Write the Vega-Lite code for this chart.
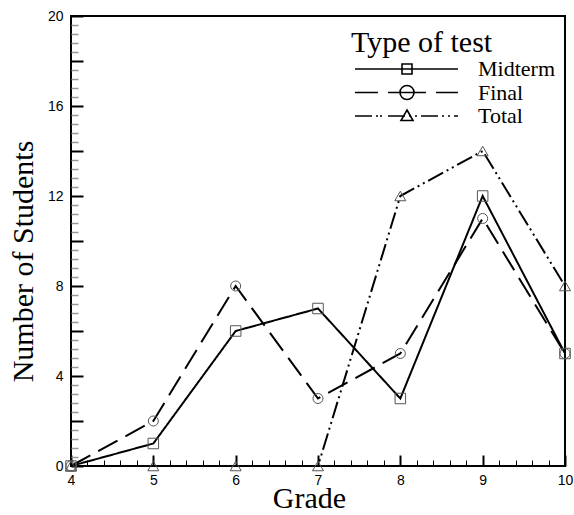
{
  "$schema": "https://vega.github.io/schema/vega-lite/v6.json",
  "autosize": {"type": "none"},
  "padding": {"left": 71, "top": 16, "right": 9, "bottom": 49},
  "width": 494,
  "height": 450,
  "background": "white",
  "config": {
    "view": {"stroke": "black", "strokeWidth": 2},
    "axis": {"domain": false, "grid": false, "ticks": true, "labelFont": "Liberation Sans", "labelFontSize": 14, "labelColor": "black", "titleFont": "Liberation Serif", "titleFontSize": 30, "titleFontWeight": "normal", "titleColor": "black", "labelOverlap": false, "labelFlush": false}
  },
  "data": {
    "values": [
      {"grade": 4, "students": 0, "test": "Midterm"},
      {"grade": 5, "students": 1, "test": "Midterm"},
      {"grade": 6, "students": 6, "test": "Midterm"},
      {"grade": 7, "students": 7, "test": "Midterm"},
      {"grade": 8, "students": 3, "test": "Midterm"},
      {"grade": 9, "students": 12, "test": "Midterm"},
      {"grade": 10, "students": 5, "test": "Midterm"},
      {"grade": 4, "students": 0, "test": "Final"},
      {"grade": 5, "students": 2, "test": "Final"},
      {"grade": 6, "students": 8, "test": "Final"},
      {"grade": 7, "students": 3, "test": "Final"},
      {"grade": 8, "students": 5, "test": "Final"},
      {"grade": 9, "students": 11, "test": "Final"},
      {"grade": 10, "students": 5, "test": "Final"},
      {"grade": 4, "students": 0, "test": "Total"},
      {"grade": 5, "students": 0, "test": "Total"},
      {"grade": 6, "students": 0, "test": "Total"},
      {"grade": 7, "students": 0, "test": "Total"},
      {"grade": 8, "students": 12, "test": "Total"},
      {"grade": 9, "students": 14, "test": "Total"},
      {"grade": 10, "students": 8, "test": "Total"}
    ]
  },
  "encoding": {
    "x": {
      "field": "grade", "type": "quantitative",
      "scale": {"domain": [4, 10], "nice": false, "zero": false},
      "axis": {
        "title": "Grade",
        "titleX": 238, "titleY": 41, "titleBaseline": "alphabetic", "titleAlign": "center", "titleAnchor": null,
        "values": [4,4.2,4.4,4.6,4.8,5,5.2,5.4,5.6,5.8,6,6.2,6.4,6.6,6.8,7,7.2,7.4,7.6,7.8,8,8.2,8.4,8.6,8.8,9,9.2,9.4,9.6,9.8,10],
        "labelOverlap": false,
        "labelExpr": "datum.value % 1 === 0 ? format(datum.value, 'd') : ''",
        "tickSize": -11,
        "tickDash": {"condition": {"test": "datum.value % 1 === 0", "value": [11, 0]}, "value": [6, 30]},
        "tickWidth": {"condition": {"test": "datum.value % 1 === 0", "value": 2}, "value": 1},
        "tickColor": "black",
        "labelPadding": 18
      }
    },
    "y": {
      "field": "students", "type": "quantitative",
      "scale": {"domain": [0, 20], "nice": false},
      "axis": {
        "title": "Number of Students",
        "titleX": -39, "titleY": 245, "titleBaseline": "alphabetic", "titleAlign": "center", "titleAnchor": null, "titleAngle": -90,
        "values": [0,0.4,0.8,1.2,1.6,2,2.4,2.8,3.2,3.6,4,4.4,4.8,5.2,5.6,6,6.4,6.8,7.2,7.6,8,8.4,8.8,9.2,9.6,10,10.4,10.8,11.2,11.6,12,12.4,12.8,13.2,13.6,14,14.4,14.8,15.2,15.6,16,16.4,16.8,17.2,17.6,18,18.4,18.8,19.2,19.6,20],
        "labelOverlap": false,
        "labelExpr": "datum.value % 4 === 0 ? format(datum.value, 'd') : ''",
        "tickSize": -12,
        "tickDash": {"condition": {"test": "datum.value % 2 === 0", "value": [12, 0]}, "value": [7, 30]},
        "tickWidth": {"condition": {"test": "datum.value % 2 === 0", "value": 2}, "value": 1.5},
        "tickColor": {"condition": {"test": "datum.value % 2 === 0", "value": "black"}, "value": "#999999"},
        "labelPadding": 20
      }
    }
  },
  "layer": [
    {
      "mark": {"type": "line", "color": "black", "strokeWidth": 2},
      "encoding": {
        "strokeDash": {
          "field": "test", "type": "nominal",
          "scale": {"domain": ["Midterm", "Final", "Total"], "range": [[1, 0], [22, 9], [17, 4, 2, 4, 2, 4]]},
          "legend": null
        }
      }
    },
    {
      "mark": {"type": "point", "filled": false, "stroke": "#555555", "strokeWidth": 1, "opacity": 1},
      "encoding": {
        "shape": {"field": "test", "type": "nominal", "scale": {"domain": ["Final", "Midterm", "Total"], "range": ["circle", "square", "triangle-up"]}, "legend": null},
        "size": {"field": "test", "type": "nominal", "scale": {"domain": ["Total", "Midterm", "Final"], "range": [121, 100, 196]}, "legend": null}
      }
    },
    {
      "mark": {"type": "point", "filled": false, "opacity": 0},
      "encoding": {
        "shape": {
          "field": "test", "type": "nominal",
          "scale": {
            "domain": ["Midterm", "Final", "Total"],
            "range": [
              "M-1.4,0H19.2M8,-1H10V1H8Z",
              "M-1.4,0H3.2M5.2,0H12.8M14.8,0H19.2M7.6,0A1.4,1.4,0,1,1,10.4,0A1.4,1.4,0,1,1,7.6,0",
              "M-1.4,0H2M2.8,0H3.2M3.6,0H4M5.2,0H8.6M9.4,0H9.8M10.6,0H11M11.8,0H15.2M16,0H16.4M17.2,0H17.6M18.4,0H19.2M9,-1.2L10.2,0.9L7.8,0.9Z"
            ]
          },
          "legend": {
            "title": "Type of test",
            "orient": "none", "legendX": 280, "legendY": 12,
            "padding": 0, "titlePadding": 0, "rowPadding": 1.5,
            "titleFont": "Liberation Serif", "titleFontSize": 30, "titleFontWeight": "normal", "titleColor": "black",
            "labelFont": "Liberation Serif", "labelFontSize": 22, "labelColor": "black", "labelOffset": 105,
            "symbolSize": 100,
            "symbolOpacity": 1,
            "symbolStrokeColor": "black",
            "symbolFillColor": "transparent",
            "symbolStrokeWidth": 1.6
          }
        }
      }
    }
  ],
  "resolve": {"scale": {"shape": "independent"}}
}
